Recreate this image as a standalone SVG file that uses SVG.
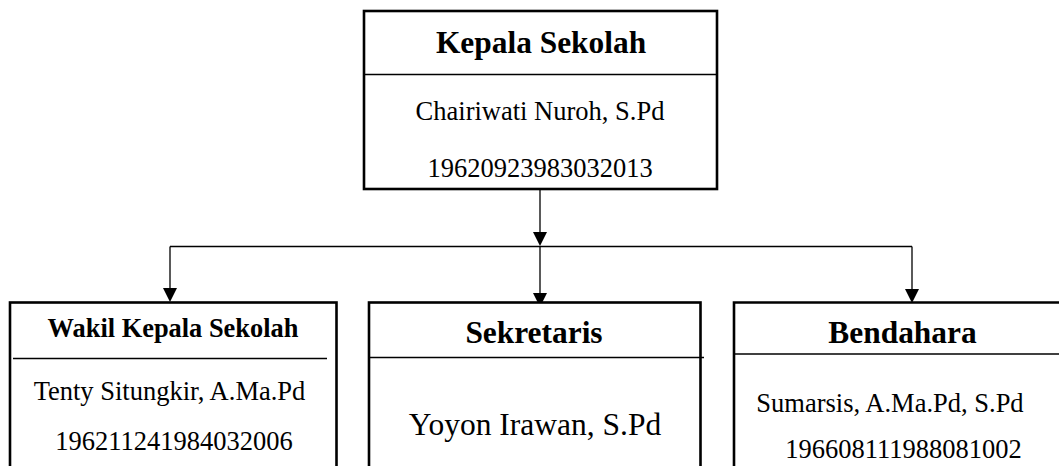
<svg xmlns="http://www.w3.org/2000/svg" width="1059" height="466" viewBox="0 0 1059 466">
<defs>
<marker id="arr" viewBox="0 0 14 14" refX="7" refY="14" markerWidth="14" markerHeight="14" markerUnits="userSpaceOnUse" orient="auto-start-reverse">
<path d="M0,0 L14,0 L7,14 Z" fill="#000"/>
</marker>
<style>
.box{fill:#fff;stroke:#000;stroke-width:2.6}
.div{stroke:#000;stroke-width:1.3;fill:none}
.con{stroke:#000;stroke-width:1.3;fill:none}
.t{font-family:"Liberation Serif","Times New Roman",serif;fill:#000;text-anchor:middle}
.b{font-weight:bold}
</style>
</defs>
<rect width="1059" height="466" fill="#fff"/>
<g id="connectors">
<line class="con" x1="540" y1="190" x2="540" y2="232" />
<path d="M533,232 L547,232 L540,246 Z" fill="#000"/>
<line class="con" x1="170" y1="246.5" x2="912" y2="246.5"/>
<line class="con" x1="170" y1="246.5" x2="170" y2="288"/>
<path d="M163,288 L177,288 L170,302 Z" fill="#000"/>
<line class="con" x1="540" y1="246.5" x2="540" y2="293"/>
<path d="M533,293 L547,293 L540,307 Z" fill="#000"/>
<line class="con" x1="912" y1="246.5" x2="912" y2="289"/>
<path d="M905,289 L919,289 L912,303 Z" fill="#000"/>
</g>
<g id="kepala">
<rect class="box" x="364" y="11" width="353" height="178"/>
<line class="div" x1="364" y1="74.5" x2="716" y2="74.5"/>
<text class="t b" x="541" y="53" font-size="31.4">Kepala Sekolah</text>
<text class="t" x="540" y="120" font-size="26.5">Chairiwati Nuroh, S.Pd</text>
<text class="t" x="540" y="177" font-size="26.5">19620923983032013</text>
</g>
<g id="wakil">
<rect class="box" x="10" y="302.5" width="326.5" height="180"/>
<line class="div" x1="13" y1="358.5" x2="327" y2="358.5"/>
<text class="t b" x="173" y="336.5" font-size="26.4">Wakil Kepala Sekolah</text>
<text class="t" x="169.5" y="400" font-size="26.5">Tenty Situngkir, A.Ma.Pd</text>
<text class="t" x="174" y="450" font-size="26.5">196211241984032006</text>
</g>
<g id="sekretaris">
<rect class="box" x="369" y="302.5" width="331.5" height="180"/>
<line class="div" x1="369" y1="357.5" x2="704" y2="357.5"/>
<text class="t b" x="534" y="342.5" font-size="31.4">Sekretaris</text>
<text class="t" x="535" y="435" font-size="31.5">Yoyon Irawan, S.Pd</text>
</g>
<g id="bendahara">
<path class="box" d="M1062,302.5 L734,302.5 L734,482"/>
<line class="div" x1="734" y1="354" x2="1059" y2="354"/>
<text class="t b" x="902.5" y="343" font-size="31.4">Bendahara</text>
<text class="t" x="890" y="411.5" font-size="26.5">Sumarsis, A.Ma.Pd, S.Pd</text>
<text class="t" x="903.5" y="458" font-size="26.5">196608111988081002</text>
</g>
</svg>
